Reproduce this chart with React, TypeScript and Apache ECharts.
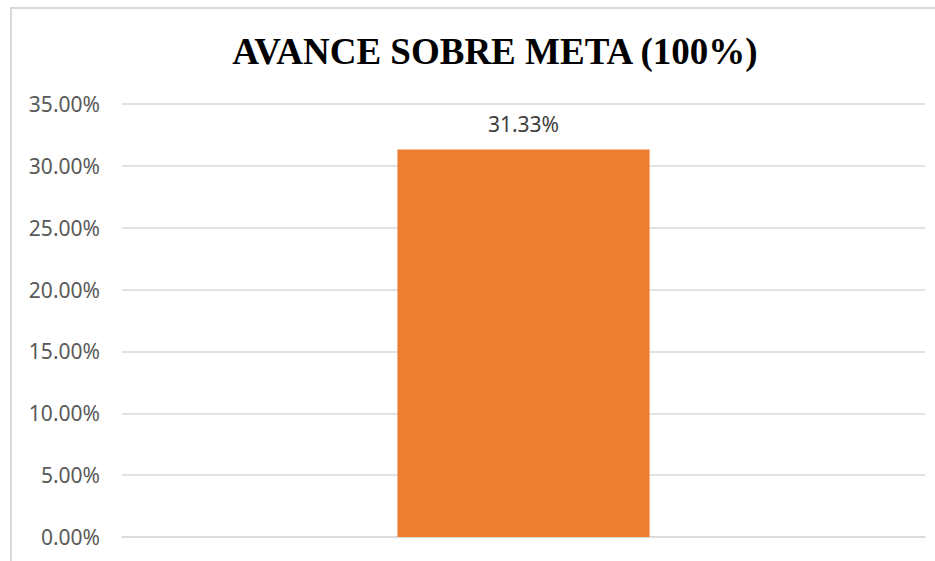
import React, { useEffect, useRef } from "react";
import * as echarts from "echarts";

const titleText = "AVANCE SOBRE META (100%)";
const categories = [""];
const values = [0.3133];
const yMin = 0;
const yMax = 0.35;
const yInterval = 0.05;

export default function App() {
  const ref = useRef<HTMLDivElement>(null);
  useEffect(() => {
    if (!ref.current) return;
    const chart = echarts.init(ref.current, null, { renderer: "svg" });
    chart.setOption({
      animation: false,
      backgroundColor: "#ffffff",
      graphic: [
        {
          type: "rect",
          shape: { x: 11, y: 8, width: 1000, height: 700 },
          style: { fill: "none", stroke: "#d9d9d9", lineWidth: 2 },
          silent: true,
        },
        {
          type: "text",
          x: 495,
          y: 51,
          style: {
            text: titleText,
            fontFamily: "Liberation Serif",
            fontWeight: "bold",
            fontSize: 37,
            fill: "#000000",
            textAlign: "center",
            textVerticalAlign: "middle",
          },
        },
      ],
      grid: { left: 122, right: 10, top: 104, bottom: 24 },
      xAxis: {
        type: "category",
        data: categories,
        axisLine: { show: true, lineStyle: { color: "#d9d9d9", width: 1.5 } },
        axisTick: { show: false },
        axisLabel: { show: false },
      },
      yAxis: {
        type: "value",
        min: yMin,
        max: yMax,
        interval: yInterval,
        axisLine: { show: false },
        axisTick: { show: false },
        splitLine: { lineStyle: { color: "#d9d9d9", width: 1.5 } },
        axisLabel: {
          margin: 22,
          color: "#595959",
          fontFamily: "Noto Sans",
          fontSize: 21,
          formatter: (v: number) => (v * 100).toFixed(2) + "%",
        },
      },
      series: [
        {
          type: "bar",
          data: values,
          barWidth: "31.4%",
          itemStyle: { color: "#ED7D31" },
          label: {
            show: true,
            position: "top",
            distance: 15,
            color: "#404040",
            fontFamily: "Noto Sans",
            fontSize: 21,
            formatter: (p: any) => (p.value * 100).toFixed(2) + "%",
          },
        },
      ],
    });
    return () => chart.dispose();
  }, []);
  return (
    <div
      ref={ref}
      style={{ position: "fixed", left: 0, top: 0, width: 935, height: 561 }}
    />
  );
}
